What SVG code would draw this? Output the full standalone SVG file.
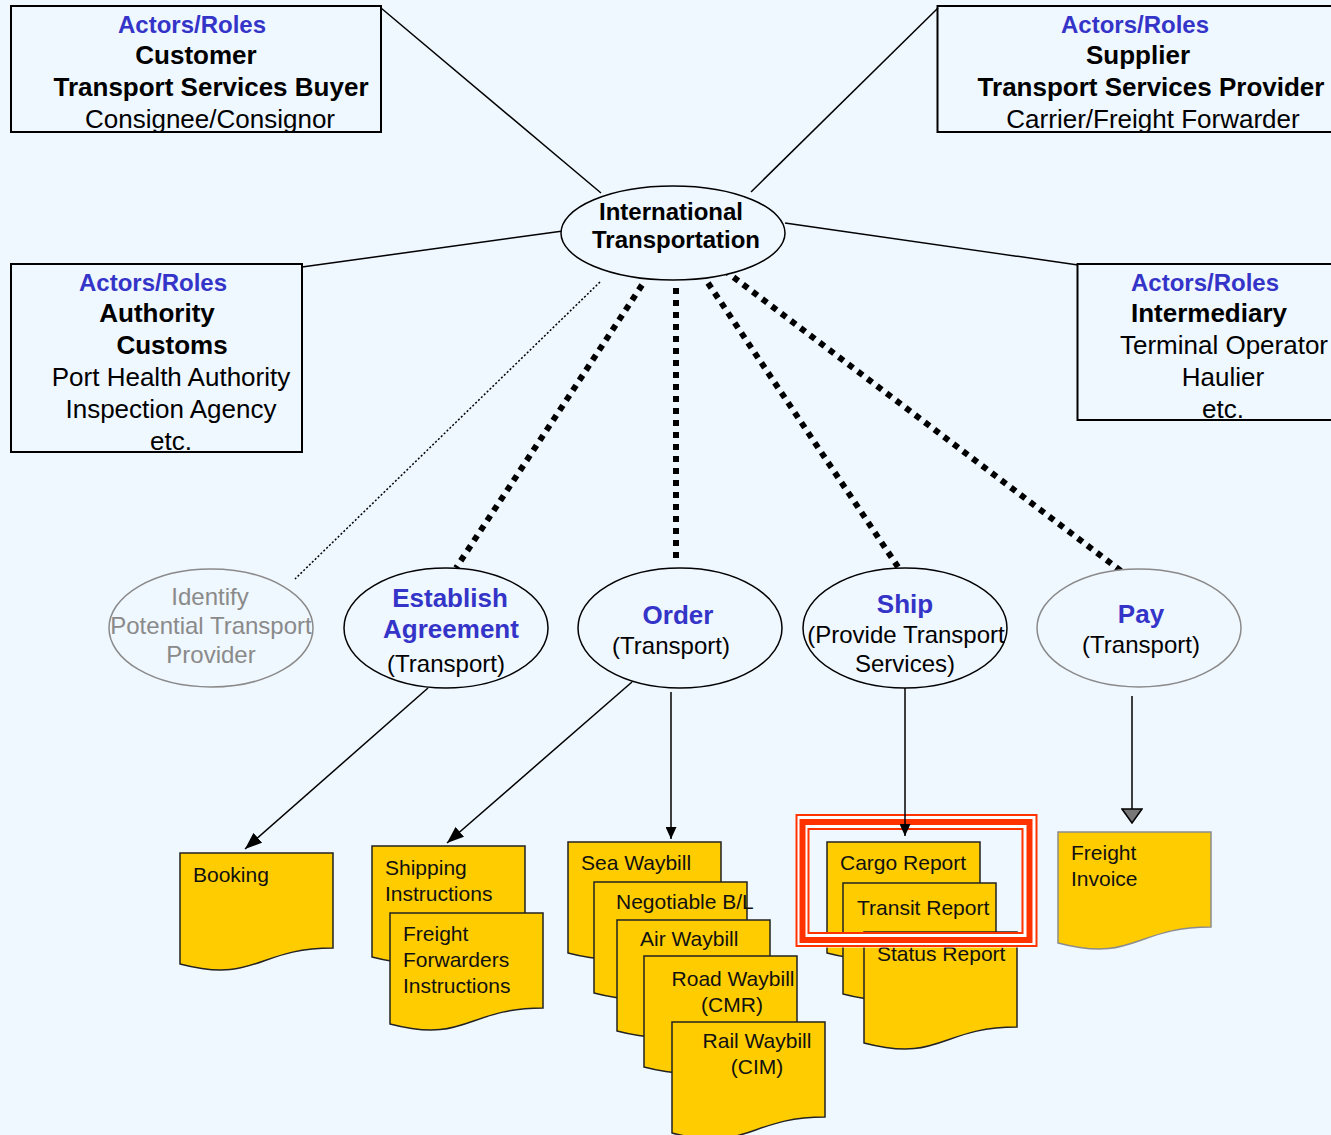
<svg xmlns="http://www.w3.org/2000/svg" xmlns:xlink="http://www.w3.org/1999/xlink" width="1331" height="1135" viewBox="0 0 1331 1135">
  <style>
    text { font-family: "Liberation Sans", Arial, sans-serif; }
    .role { font-size: 24px; font-weight: bold; fill: #3434C8; }
    .bold { font-size: 26px; font-weight: bold; fill: #000; }
    .reg { font-size: 26px; fill: #000; }
    .ctr { text-anchor: middle; }
    .act { font-size: 26px; font-weight: bold; fill: #3434C8; }
    .sub { font-size: 24px; fill: #000; }
    .grey { font-size: 24px; fill: #8A8A8A; }
    .doct { font-size: 21px; fill: #111; }
    .box { fill: none; stroke: #000; stroke-width: 2; }
    .ell { fill: #EFF7FF; stroke: #000; stroke-width: 1.5; }
    .doc { fill: #FFCC00; stroke: #222; stroke-width: 1.5; }
    .docg { fill: #FFCC00; stroke: #8C8C8C; stroke-width: 1.5; }
    .link { stroke: #000; stroke-width: 1.5; fill: none; }
    .dots { stroke: #000; stroke-width: 6; stroke-dasharray: 6 6; fill: none; }
    .fine { stroke: #000; stroke-width: 1.5; stroke-dasharray: 2 2; fill: none; }
    .hl { fill: none; stroke: #FF3300; }
  </style>
  <defs>
    <!-- flowchart "document" shape with wavy bottom edge -->
    <path id="doc" d="M0,0 H153 V95 C76.5,95 76.5,131 0,111 Z"/>
    <marker id="arrow" markerUnits="userSpaceOnUse" markerWidth="17" markerHeight="13" viewBox="0 0 17 13" refX="17" refY="6.5" orient="auto">
      <path d="M0,0 L17,6.5 L0,13 Z" fill="#000"/>
    </marker>
    <marker id="arrowSm" markerUnits="userSpaceOnUse" markerWidth="12" markerHeight="11" viewBox="0 0 12 11" refX="12" refY="5.5" orient="auto">
      <path d="M0,0 L12,5.5 L0,11 Z" fill="#000"/>
    </marker>
    <marker id="arrowGrey" markerUnits="userSpaceOnUse" markerWidth="16" markerHeight="22" viewBox="0 0 16 22" refX="15" refY="11" orient="auto">
      <path d="M1,1 L15,11 L1,21 Z" fill="#777" stroke="#000" stroke-width="1.5"/>
    </marker>
  </defs>

  <rect x="0" y="0" width="1331" height="1135" fill="#EFF7FF"/>

  <!-- connectors -->
  <g id="connectors">
    <line class="link" x1="381" y1="8" x2="601" y2="193"/>
    <line class="link" x1="938" y1="8" x2="751" y2="192"/>
    <line class="link" x1="302" y1="267" x2="563" y2="231"/>
    <line class="link" x1="785" y1="223" x2="1078" y2="265"/>

    <line class="fine" x1="600" y1="282" x2="295" y2="579"/>
    <line class="dots" x1="642" y1="285" x2="456" y2="568"/>
    <line class="dots" x1="676" y1="288" x2="676" y2="564"/>
    <line class="dots" x1="708" y1="283" x2="898" y2="567"/>
    <line class="dots" x1="724" y1="270" x2="1121" y2="571"/>

    <line class="link" x1="428" y1="688" x2="245" y2="849" marker-end="url(#arrow)"/>
    <line class="link" x1="632" y1="682" x2="447" y2="843" marker-end="url(#arrow)"/>
    <line class="link" x1="671" y1="692" x2="671" y2="839" marker-end="url(#arrowSm)"/>
    <line class="link" x1="1132" y1="696" x2="1132" y2="823" marker-end="url(#arrowGrey)"/>
  </g>

  <!-- actor / role boxes -->
  <g id="customer">
    <rect class="box" x="11" y="6" width="370" height="126"/>
    <text class="role ctr" x="192" y="33">Actors/Roles</text>
    <text class="bold ctr" x="196" y="64">Customer</text>
    <text class="bold ctr" x="211" y="96">Transport Services Buyer</text>
    <text class="reg ctr" x="210" y="128">Consignee/Consignor</text>
  </g>
  <g id="supplier">
    <rect class="box" x="937.5" y="6" width="400" height="126"/>
    <text class="role ctr" x="1135" y="33">Actors/Roles</text>
    <text class="bold ctr" x="1138" y="64">Supplier</text>
    <text class="bold ctr" x="1151" y="96">Transport Services Provider</text>
    <text class="reg ctr" x="1153" y="128">Carrier/Freight Forwarder</text>
  </g>
  <g id="authority">
    <rect class="box" x="11" y="264" width="291" height="188"/>
    <text class="role ctr" x="153" y="291">Actors/Roles</text>
    <text class="bold ctr" x="157" y="322">Authority</text>
    <text class="bold ctr" x="172" y="354">Customs</text>
    <text class="reg ctr" x="171" y="386">Port Health Authority</text>
    <text class="reg ctr" x="171" y="418">Inspection Agency</text>
    <text class="reg ctr" x="171" y="450">etc.</text>
  </g>
  <g id="intermediary">
    <rect class="box" x="1077.5" y="264" width="260" height="156"/>
    <text class="role ctr" x="1205" y="291">Actors/Roles</text>
    <text class="bold ctr" x="1209" y="322">Intermediary</text>
    <text class="reg ctr" x="1224" y="354">Terminal Operator</text>
    <text class="reg ctr" x="1223" y="386">Haulier</text>
    <text class="reg ctr" x="1223" y="418">etc.</text>
  </g>

  <!-- central activity -->
  <g id="international">
    <ellipse class="ell" cx="673" cy="233" rx="112" ry="47"/>
    <text class="ctr" x="671" y="220" font-size="24" font-weight="bold">International</text>
    <text class="ctr" x="676" y="248" font-size="24" font-weight="bold">Transportation</text>
  </g>

  <!-- process steps -->
  <g id="identify">
    <ellipse class="ell" cx="211" cy="628" rx="102" ry="59" stroke="#8A8A8A" style="stroke:#8A8A8A"/>
    <text class="grey ctr" x="210" y="605">Identify</text>
    <text class="grey ctr" x="211" y="634">Potential Transport</text>
    <text class="grey ctr" x="211" y="663">Provider</text>
  </g>
  <g id="establish">
    <ellipse class="ell" cx="446" cy="628" rx="102" ry="60"/>
    <text class="act ctr" x="450" y="607">Establish</text>
    <text class="act ctr" x="451" y="638">Agreement</text>
    <text class="sub ctr" x="446" y="672">(Transport)</text>
  </g>
  <g id="order">
    <ellipse class="ell" cx="680" cy="628" rx="102" ry="60"/>
    <text class="act ctr" x="678" y="624">Order</text>
    <text class="sub ctr" x="671" y="654">(Transport)</text>
  </g>
  <g id="ship">
    <ellipse class="ell" cx="905" cy="628" rx="102" ry="60"/>
    <text class="act ctr" x="905" y="613">Ship</text>
    <text class="sub ctr" x="906" y="643">(Provide Transport</text>
    <text class="sub ctr" x="905" y="672">Services)</text>
  </g>
  <g id="pay">
    <ellipse class="ell" cx="1139" cy="628" rx="102" ry="59" style="stroke:#8A8A8A"/>
    <text class="act ctr" x="1141" y="623">Pay</text>
    <text class="sub ctr" x="1141" y="653">(Transport)</text>
  </g>

  <!-- documents -->
  <g id="booking">
    <use xlink:href="#doc" href="#doc" class="doc" x="180" y="853"/>
    <text class="doct" x="193" y="882">Booking</text>
  </g>
  <g id="shipping-instructions">
    <use xlink:href="#doc" href="#doc" class="doc" x="372" y="846"/>
    <text class="doct" x="385" y="875">Shipping</text>
    <text class="doct" x="385" y="901">Instructions</text>
  </g>
  <g id="ff-instructions">
    <use xlink:href="#doc" href="#doc" class="doc" x="390" y="913"/>
    <text class="doct" x="403" y="941">Freight</text>
    <text class="doct" x="403" y="967">Forwarders</text>
    <text class="doct" x="403" y="993">Instructions</text>
  </g>
  <g id="sea-waybill">
    <use xlink:href="#doc" href="#doc" class="doc" x="568" y="842"/>
    <text class="doct" x="581" y="870">Sea Waybill</text>
  </g>
  <g id="negotiable-bl">
    <use xlink:href="#doc" href="#doc" class="doc" x="594" y="882"/>
    <text class="doct" x="616" y="909">Negotiable B/L</text>
  </g>
  <g id="air-waybill">
    <use xlink:href="#doc" href="#doc" class="doc" x="617" y="920"/>
    <text class="doct" x="640" y="946">Air Waybill</text>
  </g>
  <g id="road-waybill">
    <use xlink:href="#doc" href="#doc" class="doc" x="644" y="956"/>
    <text class="doct ctr" x="733" y="986">Road Waybill</text>
    <text class="doct ctr" x="732" y="1012">(CMR)</text>
  </g>
  <g id="rail-waybill">
    <use xlink:href="#doc" href="#doc" class="doc" x="672" y="1022"/>
    <text class="doct ctr" x="757" y="1048">Rail Waybill</text>
    <text class="doct ctr" x="757" y="1074">(CIM)</text>
  </g>
  <g id="cargo-report">
    <use xlink:href="#doc" href="#doc" class="doc" x="827" y="842"/>
    <text class="doct" x="840" y="870">Cargo Report</text>
  </g>
  <g id="transit-report">
    <use xlink:href="#doc" href="#doc" class="doc" x="843" y="883"/>
    <text class="doct" x="857" y="915">Transit Report</text>
  </g>
  <g id="status-report">
    <use xlink:href="#doc" href="#doc" class="doc" x="864" y="932"/>
    <text class="doct" x="877" y="961">Status Report</text>
  </g>
  <g id="freight-invoice">
    <use xlink:href="#doc" href="#doc" class="docg" x="1058" y="832"/>
    <text class="doct" x="1071" y="860">Freight</text>
    <text class="doct" x="1071" y="886">Invoice</text>
  </g>

  <!-- highlight frame around the reporting documents -->
  <g id="highlight">
    <rect x="802.5" y="822" width="227" height="118" fill="none" stroke="#FFFFFF" stroke-width="15"/>
    <rect class="hl" x="796.5" y="815" width="240" height="131" stroke-width="2"/>
    <rect class="hl" x="802.5" y="822" width="227" height="118" stroke-width="6"/>
    <rect class="hl" x="808.5" y="829" width="214" height="104" stroke-width="2"/>
  </g>

  <!-- Ship to reports arrow, drawn above the frame -->
  <g id="ship-arrow">
    <line class="link" x1="905" y1="688" x2="905" y2="836" marker-end="url(#arrowSm)"/>
  </g>
</svg>
